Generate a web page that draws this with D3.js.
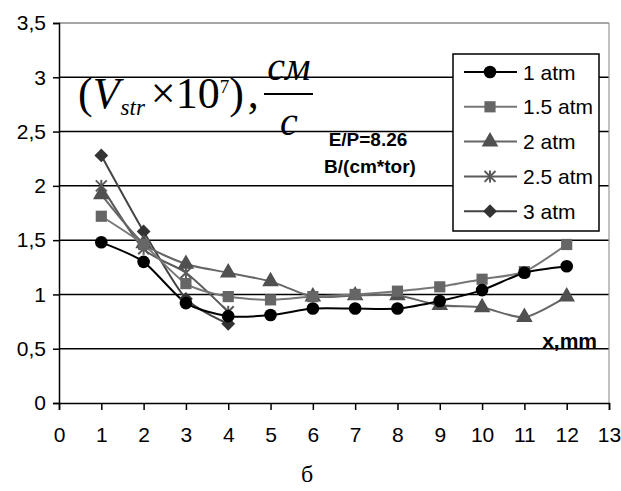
<!DOCTYPE html>
<html>
<head>
<meta charset="utf-8">
<script src="https://cdn.jsdelivr.net/npm/d3@7"></script>
<style>
body{margin:0;background:#fff;}
svg text{font-family:Arial,"Liberation Sans",sans-serif;}
svg text.serif{font-family:"Liberation Serif","Times New Roman",serif;}
</style>
</head>
<body>
<div id="viz-container"></div>
<script>
// data
let xs = [1,2,3,4,5,6,7,8,9,10,11,12];
let atm1 = [1.48,1.30,0.92,0.80,0.81,0.87,0.87,0.87,0.94,1.04,1.20,1.26];
let atm15 = [1.72,1.46,1.10,0.98,0.95,0.98,1.00,1.03,1.07,1.14,1.21,1.46];
let atm2 = [1.92,1.47,1.28,1.20,1.12,0.98,0.99,0.99,0.90,0.88,0.79,0.98];
let atm25 = [2.00,1.42,1.20,0.84];
let atm3 = [2.28,1.58,0.96,0.73];
let names = ['1 atm','1.5 atm','2 atm','2.5 atm','3 atm'];
let yTicks = [0,0.5,1,1.5,2,2.5,3,3.5];
let xTicks = d3.range(0,14);

let series = [
  {name:names[0], vals:atm1, sym:'circle', col:'#000', line:'#000'},
  {name:names[1], vals:atm15, sym:'square', col:'#666', line:'#777'},
  {name:names[2], vals:atm2, sym:'triangle', col:'#505050', line:'#666'},
  {name:names[3], vals:atm25, sym:'star', col:'#5a5a5a', line:'#5a5a5a'},
  {name:names[4], vals:atm3, sym:'diamond', col:'#333', line:'#444'}
];

let svg = d3.select('#viz-container').append('svg')
  .attr('width',621).attr('height',491);

let x = d3.scaleLinear().domain([0,13]).range([59,609]);
let y = d3.scaleLinear().domain([0,3.5]).range([403,23]);

//grid
svg.selectAll('.grid').data(yTicks.slice(1,7)).enter()
  .append('line')
    .attr('x1',x(0)).attr('x2',x(13))
    .attr('y1',d=>y(d)).attr('y2',d=>y(d))
    .attr('stroke','#000').attr('stroke-width',1.5);

// top + right border
svg.append('line').attr('x1',x(0)).attr('x2',x(13)).attr('y1',y(3.5)).attr('y2',y(3.5))
  .attr('stroke','#888').attr('stroke-width',1.5);
svg.append('line').attr('x1',x(13)).attr('x2',x(13)).attr('y1',y(3.5)).attr('y2',y(0))
  .attr('stroke','#999').attr('stroke-width',1.2);

// axes
let xAxis = svg.append('g').attr('transform','translate(0,'+y(0)+')')
  .call(d3.axisBottom(x).tickValues(xTicks).tickSize(7).tickPadding(17).tickFormat(d3.format('d')));
let yAxis = svg.append('g').attr('transform','translate('+x(0)+',0)')
  .call(d3.axisLeft(y).tickValues(yTicks).tickSize(6).tickPadding(7)
    .tickFormat(d=>String(d).replace('.',',')));
[xAxis,yAxis].forEach(a=>{
  a.select('.domain').attr('stroke','#000').attr('stroke-width',1.5);
  a.selectAll('.tick line').attr('stroke','#000').attr('stroke-width',1.5);
  a.selectAll('text').attr('font-size',21).attr('fill','#000');
});

let line = d3.line().x((d,i)=>x(xs[i])).y(d=>y(d)).curve(d3.curveCardinal.tension(0.3));

let symType = {circle:d3.symbolCircle, square:d3.symbolSquare, triangle:d3.symbolTriangle,
  diamond:d3.symbolSquare, star:d3.symbolX};
let symSize = {circle:125, square:125, triangle:120, diamond:95, star:80};

function marker(g, s, cx, cy){
  let p = g.append('path')
    .attr('transform','translate('+cx+','+cy+')'+(s.sym=='diamond'?' rotate(45)':''))
    .attr('d', d3.symbol().type(symType[s.sym]).size(symSize[s.sym])());
  if(s.sym=='star'){
    p.attr('fill','none').attr('stroke',s.col).attr('stroke-width',2);
    g.append('line').attr('x1',cx).attr('x2',cx).attr('y1',cy-6).attr('y2',cy+6)
      .attr('stroke',s.col).attr('stroke-width',2);
  } else {
    p.attr('fill',s.col);
  }
}

// draw series (back to front)
series.slice().reverse().forEach(s=>{
  svg.append('path').datum(s.vals)
    .attr('d',line).attr('fill','none')
    .attr('stroke',s.line).attr('stroke-width',2);
});
series.slice().reverse().forEach(s=>{
  let g = svg.append('g');
  s.vals.forEach((v,i)=>marker(g,s,x(xs[i]),y(v)));
});

// legend
let lg = svg.append('g');
lg.append('rect').attr('x',453).attr('y',54).attr('width',146).attr('height',177)
  .attr('fill','#fff').attr('stroke','#000').attr('stroke-width',1.5);
series.forEach((s,i)=>{
  let ly = 72 + i*34.8;
  lg.append('line').attr('x1',464).attr('x2',517).attr('y1',ly).attr('y2',ly)
    .attr('stroke',s.line).attr('stroke-width',2);
  marker(lg,s,490,ly);
  lg.append('text').attr('x',523).attr('y',ly+7.5).attr('font-size',21).text(s.name);
});

// y title (Times, italic)
let t = svg.append('text').attr('class','serif').attr('x',78).attr('y',108)
  .attr('font-size',44);
t.append('tspan').text('(');
t.append('tspan').attr('font-style','italic').text('V');
t.append('tspan').attr('font-style','italic').attr('font-size',23).attr('dx',1).attr('dy',7).text('str');
t.append('tspan').attr('dx',6).attr('dy',-7).text('\u00d710');
t.append('tspan').attr('font-size',19).attr('dy',-15).text('7');
t.append('tspan').attr('dy',15).text(')');
t.append('tspan').attr('dx',4).text(',');
svg.append('text').attr('class','serif').attr('x',289).attr('y',80).attr('text-anchor','middle')
  .attr('font-style','italic').attr('font-size',40).text('см');
svg.append('line').attr('x1',264).attr('x2',313).attr('y1',94).attr('y2',94)
  .attr('stroke','#000').attr('stroke-width',2);
svg.append('text').attr('class','serif').attr('x',289).attr('y',135).attr('text-anchor','middle')
  .attr('font-style','italic').attr('font-size',40).text('с');

svg.append('text').attr('x',368).attr('y',146).attr('text-anchor','middle')
  .attr('font-size',19).attr('font-weight','bold').text('E/P=8.26');
svg.append('text').attr('x',370).attr('y',173).attr('text-anchor','middle')
  .attr('font-size',19).attr('font-weight','bold').text('B/(cm*tor)');

svg.append('text').attr('x',597).attr('y',348).attr('text-anchor','end')
  .attr('font-size',21).attr('font-weight','bold').text('x,mm');

svg.append('text').attr('class','serif').attr('x',307).attr('y',482).attr('text-anchor','middle')
  .attr('font-size',24).text('б');
</script>
</body>
</html>
